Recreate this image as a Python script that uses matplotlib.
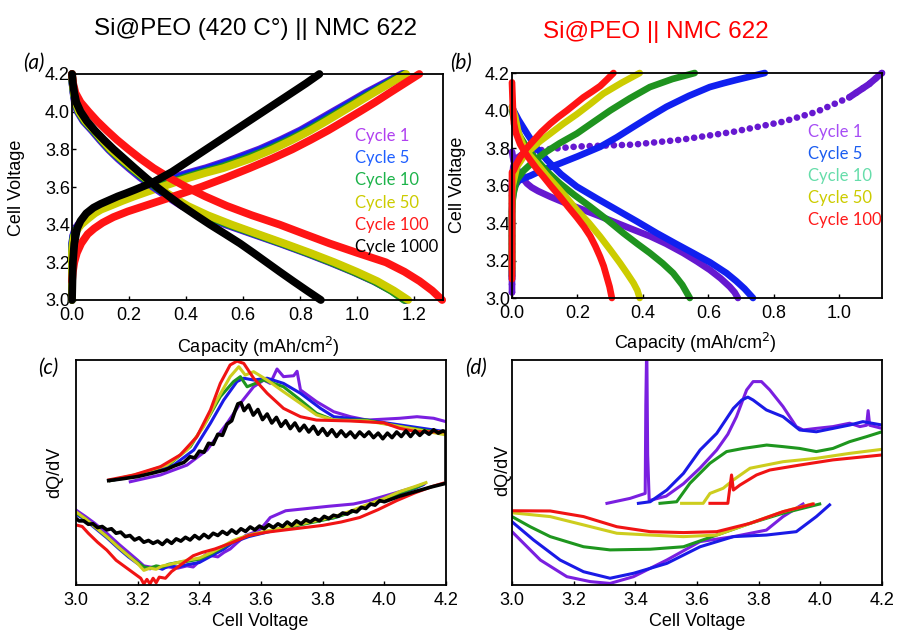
import matplotlib
matplotlib.use("Agg")
import matplotlib.pyplot as plt

# ------------------------------------------------------------------
# Panel (a): Si@PEO (420 C) || NMC 622 charge / discharge profiles
# ------------------------------------------------------------------
a_v_chg = [3.0, 3.25, 3.3, 3.34, 3.37, 3.4, 3.43, 3.46, 3.48, 3.5, 3.525, 3.55, 3.575, 3.6,
           3.625, 3.65, 3.675, 3.7, 3.75, 3.8, 3.85, 3.9, 3.95, 4.0, 4.05, 4.1, 4.15, 4.2]
a_cap_chg_1 = [0.0, 0.0, 0.001, 0.004, 0.01, 0.022, 0.04, 0.062, 0.08, 0.10, 0.133, 0.17, 0.213, 0.262,
               0.31, 0.357, 0.41, 0.47, 0.57, 0.658, 0.732, 0.80, 0.858, 0.915, 0.973, 1.03, 1.093, 1.157]
a_cap_chg_5 = [0.0, 0.0, 0.001, 0.005, 0.012, 0.025, 0.045, 0.068, 0.088, 0.11, 0.145, 0.183, 0.227, 0.275,
               0.323, 0.37, 0.423, 0.483, 0.582, 0.668, 0.741, 0.808, 0.866, 0.923, 0.981, 1.038, 1.10, 1.162]
a_cap_chg_10 = [0.0, 0.0, 0.002, 0.006, 0.014, 0.028, 0.05, 0.074, 0.095, 0.125, 0.163, 0.204, 0.25, 0.298,
                0.347, 0.396, 0.45, 0.512, 0.608, 0.69, 0.761, 0.825, 0.882, 0.938, 0.994, 1.05, 1.108, 1.166]
a_cap_chg_50 = [0.0, 0.0, 0.003, 0.008, 0.017, 0.032, 0.055, 0.08, 0.102, 0.135, 0.175, 0.218, 0.265, 0.313,
                0.362, 0.413, 0.468, 0.53, 0.625, 0.703, 0.772, 0.835, 0.892, 0.947, 1.002, 1.057, 1.114, 1.171]

a_v_chg_100 = [3.1, 3.15, 3.2, 3.25, 3.3, 3.35, 3.38, 3.41, 3.44, 3.47, 3.5, 3.53, 3.56, 3.6, 3.65,
               3.7, 3.75, 3.8, 3.85, 3.9, 3.95, 4.0, 4.05, 4.1, 4.15, 4.2]
a_cap_chg_100 = [0.0, 0.003, 0.008, 0.017, 0.032, 0.055, 0.078, 0.107, 0.145, 0.195, 0.255, 0.315, 0.375,
                 0.452, 0.54, 0.622, 0.70, 0.772, 0.836, 0.897, 0.953, 1.008, 1.062, 1.113, 1.165, 1.217]

a_v_chg_1000 = [3.0, 3.2, 3.3, 3.38, 3.42, 3.46, 3.49, 3.51, 3.53, 3.55, 3.567, 3.585, 3.61, 3.63,
                3.655, 3.68, 3.78, 3.88, 3.98, 4.08, 4.15, 4.2]
a_cap_chg_1000 = [0.0, 0.003, 0.008, 0.018, 0.03, 0.05, 0.075, 0.10, 0.13, 0.16, 0.19, 0.22, 0.26, 0.29,
                  0.32, 0.35, 0.45, 0.55, 0.65, 0.75, 0.82, 0.867]

a_v_dis = [4.2, 4.15, 4.1, 4.05, 4.0, 3.95, 3.9, 3.85, 3.8, 3.75, 3.7, 3.65, 3.6, 3.55, 3.5, 3.45,
           3.4, 3.35, 3.3, 3.25, 3.2, 3.15, 3.1, 3.05, 3.0]
a_cap_dis_1 = [0.0, 0.002, 0.005, 0.01, 0.02, 0.04, 0.07, 0.098, 0.128, 0.162, 0.20, 0.24, 0.285, 0.333,
               0.385, 0.455, 0.54, 0.635, 0.73, 0.82, 0.905, 0.985, 1.058, 1.12, 1.168]
a_cap_dis_5 = [0.0, 0.002, 0.006, 0.011, 0.022, 0.042, 0.073, 0.101, 0.131, 0.166, 0.205, 0.245, 0.29,
               0.339, 0.392, 0.462, 0.547, 0.641, 0.735, 0.825, 0.91, 0.99, 1.062, 1.123, 1.17]
a_cap_dis_10 = [0.0, 0.002, 0.006, 0.012, 0.023, 0.044, 0.075, 0.103, 0.133, 0.169, 0.208, 0.249, 0.294,
                0.344, 0.397, 0.467, 0.551, 0.644, 0.737, 0.826, 0.91, 0.988, 1.06, 1.118, 1.165]
a_cap_dis_50 = [0.0, 0.003, 0.007, 0.013, 0.025, 0.047, 0.078, 0.106, 0.136, 0.173, 0.213, 0.255, 0.30,
                0.351, 0.405, 0.476, 0.56, 0.652, 0.745, 0.835, 0.92, 0.998, 1.07, 1.128, 1.178]
a_cap_dis_100 = [0.0, 0.004, 0.012, 0.03, 0.058, 0.088, 0.122, 0.158, 0.198, 0.24, 0.286, 0.34, 0.40,
                 0.467, 0.542, 0.63, 0.728, 0.815, 0.903, 1.0, 1.10, 1.165, 1.218, 1.262, 1.297]
a_cap_dis_1000 = [0.0, 0.003, 0.008, 0.015, 0.03, 0.052, 0.08, 0.112, 0.146, 0.183, 0.22, 0.258, 0.297,
                  0.34, 0.385, 0.434, 0.484, 0.537, 0.589, 0.636, 0.682, 0.728, 0.775, 0.823, 0.872]

a_labels = ["Cycle 1", "Cycle 5", "Cycle 10", "Cycle 50", "Cycle 100", "Cycle 1000"]

# ------------------------------------------------------------------
# Panel (b): Si@PEO || NMC 622 charge / discharge profiles
# ------------------------------------------------------------------
b_cap_chg_1 = [0.0, 0.0, 0.004, 0.012, 0.03, 0.06, 0.10, 0.20, 0.37, 0.52, 0.675, 0.827, 0.93, 1.03, 1.09, 1.13]
b_v_chg_1 = [3.03, 3.62, 3.70, 3.74, 3.765, 3.78, 3.792, 3.808, 3.818, 3.845, 3.886, 3.94, 3.993, 4.07, 4.14, 4.2]
b_cap_dis_1 = [0.0, 0.002, 0.005, 0.012, 0.02, 0.032, 0.046, 0.06, 0.08, 0.117, 0.165, 0.218, 0.27, 0.32,
               0.37, 0.421, 0.47, 0.523, 0.565, 0.604, 0.637, 0.665, 0.68, 0.69]
b_v_dis_1 = [3.78, 3.76, 3.73, 3.7, 3.67, 3.64, 3.61, 3.59, 3.57, 3.54, 3.505, 3.47, 3.435, 3.40, 3.365,
             3.33, 3.29, 3.24, 3.195, 3.15, 3.105, 3.06, 3.03, 3.0]

b_cap_chg_5 = [0.0, 0.0, 0.002, 0.005, 0.01, 0.02, 0.035, 0.056, 0.09, 0.147, 0.2, 0.269, 0.32, 0.371,
               0.42, 0.472, 0.54, 0.604, 0.645, 0.685, 0.73, 0.772]
b_v_chg_5 = [3.1, 3.47, 3.53, 3.576, 3.6, 3.625, 3.638, 3.652, 3.68, 3.718, 3.755, 3.806, 3.857, 3.913,
             3.966, 4.02, 4.078, 4.125, 4.145, 4.163, 4.182, 4.2]
b_cap_dis_5 = [0.0, 0.005, 0.02, 0.046, 0.075, 0.107, 0.15, 0.198, 0.26, 0.32, 0.38, 0.442, 0.5, 0.553,
               0.605, 0.655, 0.685, 0.71, 0.736]
b_v_dis_5 = [4.02, 4.0, 3.95, 3.877, 3.8, 3.735, 3.66, 3.594, 3.53, 3.47, 3.41, 3.346, 3.29, 3.24, 3.19,
             3.133, 3.09, 3.05, 3.0]

b_cap_chg_10 = [0.0, 0.0, 0.002, 0.005, 0.015, 0.036, 0.064, 0.096, 0.145, 0.198, 0.25, 0.30, 0.36, 0.421,
                0.49, 0.558]
b_v_chg_10 = [3.12, 3.45, 3.52, 3.56, 3.63, 3.68, 3.725, 3.77, 3.825, 3.877, 3.94, 4.0, 4.065, 4.125,
              4.168, 4.2]
b_cap_dis_10 = [0.0, 0.005, 0.012, 0.025, 0.048, 0.076, 0.11, 0.147, 0.19, 0.239, 0.29, 0.34, 0.382, 0.421,
                0.46, 0.492, 0.52, 0.543]
b_v_dis_10 = [4.0, 3.96, 3.91, 3.86, 3.795, 3.735, 3.67, 3.61, 3.55, 3.487, 3.418, 3.346, 3.29, 3.24,
              3.185, 3.133, 3.07, 3.0]

b_cap_chg_50 = [0.0, 0.0, 0.002, 0.005, 0.015, 0.034, 0.056, 0.085, 0.117, 0.157, 0.198, 0.24, 0.279,
                0.335, 0.39]
b_v_chg_50 = [3.15, 3.55, 3.6, 3.62, 3.70, 3.75, 3.79, 3.835, 3.877, 3.93, 3.98, 4.036, 4.09, 4.148, 4.2]
b_cap_dis_50 = [0.0, 0.004, 0.01, 0.02, 0.036, 0.055, 0.076, 0.105, 0.137, 0.168, 0.198, 0.235, 0.269,
                0.30, 0.33, 0.352, 0.371, 0.383, 0.39]
b_v_dis_50 = [4.02, 4.0, 3.966, 3.88, 3.806, 3.76, 3.718, 3.656, 3.594, 3.532, 3.47, 3.4, 3.328, 3.257,
              3.186, 3.13, 3.08, 3.04, 3.0]

b_cap_chg_100 = [0.0, 0.0, 0.002, 0.005, 0.014, 0.025, 0.044, 0.066, 0.09, 0.117, 0.142, 0.168, 0.193,
                 0.218, 0.244, 0.269, 0.29, 0.31]
b_v_chg_100 = [3.1, 3.67, 3.675, 3.68, 3.715, 3.75, 3.797, 3.84, 3.886, 3.93, 3.966, 4.0, 4.035, 4.07,
               4.1, 4.13, 4.165, 4.2]
b_cap_dis_100 = [0.0, 0.002, 0.003, 0.006, 0.012, 0.025, 0.04, 0.056, 0.075, 0.096, 0.12, 0.147, 0.172,
                 0.198, 0.22, 0.239, 0.255, 0.269, 0.28, 0.289, 0.298, 0.305]
b_v_dis_100 = [4.15, 4.05, 4.0, 3.93, 3.88, 3.82, 3.775, 3.735, 3.69, 3.647, 3.595, 3.54, 3.485, 3.43,
               3.38, 3.33, 3.275, 3.22, 3.17, 3.115, 3.06, 3.0]

b_labels = ["Cycle 1", "Cycle 5", "Cycle 10", "Cycle 50", "Cycle 100"]

# ------------------------------------------------------------------
# Panel (c): dQ/dV, Si@PEO (420 C) || NMC 622  (voltage, dQ/dV a.u.)
# ------------------------------------------------------------------
c_chg_1 = [(3.176, 4.59), (3.274, 4.89), (3.36, 5.33), (3.425, 6.0), (3.49, 7.19), (3.533, 8.07),
           (3.576, 8.81), (3.609, 9.11), (3.63, 8.96), (3.652, 9.6), (3.673, 9.26), (3.706, 9.3),
           (3.717, 9.5), (3.728, 8.67), (3.78, 8.15), (3.836, 7.7), (3.89, 7.48), (3.944, 7.33),
           (4.05, 7.41), (4.106, 7.48), (4.16, 7.41), (4.2, 7.26)]
c_chg_5 = [(3.111, 4.64), (3.23, 4.93), (3.317, 5.33), (3.382, 6.0), (3.436, 7.19), (3.479, 8.22),
           (3.522, 9.04), (3.544, 9.19), (3.576, 9.11), (3.62, 9.19), (3.673, 8.96), (3.728, 8.52),
           (3.793, 7.85), (3.836, 7.48), (3.944, 7.33), (4.052, 7.11), (4.2, 6.81)]
c_chg_10 = [(3.111, 4.64), (3.22, 4.96), (3.306, 5.4), (3.371, 6.15), (3.425, 7.33), (3.468, 8.37),
            (3.511, 9.04), (3.533, 9.26), (3.555, 8.81), (3.609, 9.11), (3.673, 8.81), (3.728, 8.22),
            (3.78, 7.63), (3.836, 7.33), (3.944, 7.33), (4.052, 7.04), (4.2, 6.74)]
c_chg_50 = [(3.111, 4.64), (3.209, 4.96), (3.295, 5.33), (3.36, 6.0), (3.414, 7.04), (3.457, 8.22),
            (3.50, 9.26), (3.528, 9.7), (3.549, 9.33), (3.576, 9.48), (3.62, 9.11), (3.673, 8.59),
            (3.728, 8.07), (3.78, 7.56), (3.836, 7.33), (3.944, 7.29), (4.052, 7.04), (4.2, 6.67)]
c_chg_100 = [(3.106, 4.67), (3.187, 4.89), (3.274, 5.26), (3.338, 5.78), (3.392, 6.59), (3.436, 7.78),
             (3.468, 8.96), (3.50, 9.78), (3.522, 9.95), (3.544, 9.85), (3.576, 9.19), (3.62, 8.52),
             (3.673, 7.85), (3.728, 7.48), (3.78, 7.33), (3.89, 7.29), (3.998, 7.21), (4.05, 6.96),
             (4.106, 6.81), (4.2, 6.81)]
c_chg_1000 = [(3.106, 4.64), (3.15, 4.72), (3.20, 4.82), (3.25, 4.98), (3.29, 5.12), (3.32, 5.3),
              (3.35, 5.45), (3.37, 5.7), (3.385, 5.65), (3.40, 5.95), (3.415, 5.9), (3.43, 6.3),
              (3.445, 6.25), (3.46, 6.7), (3.475, 6.65), (3.49, 7.15), (3.505, 7.3), (3.515, 7.7),
              (3.525, 8.05), (3.535, 8.1), (3.545, 7.75), (3.56, 8.0), (3.575, 7.55), (3.59, 7.8),
              (3.605, 7.35), (3.62, 7.6), (3.635, 7.2), (3.65, 7.45), (3.665, 7.05), (3.68, 7.3),
              (3.695, 6.95), (3.71, 7.2), (3.725, 6.85), (3.74, 7.1), (3.755, 6.8), (3.77, 7.05),
              (3.785, 6.7), (3.80, 6.95), (3.815, 6.65), (3.83, 6.9), (3.845, 6.6), (3.86, 6.85),
              (3.875, 6.6), (3.89, 6.8), (3.905, 6.55), (3.92, 6.8), (3.935, 6.6), (3.95, 6.8),
              (3.965, 6.55), (3.98, 6.75), (3.995, 6.5), (4.01, 6.75), (4.025, 6.55), (4.04, 6.8),
              (4.055, 6.6), (4.07, 6.85), (4.085, 6.6), (4.10, 6.85), (4.115, 6.65), (4.13, 6.85),
              (4.145, 6.7), (4.16, 6.9), (4.175, 6.75), (4.19, 6.85), (4.2, 6.8)]

c_dis_1 = [(3.0, 3.33), (3.03, 3.05), (3.06, 2.75), (3.10, 2.3), (3.14, 1.8), (3.17, 1.45), (3.20, 1.1),
           (3.22, 0.85), (3.24, 0.8), (3.27, 0.75), (3.30, 0.8), (3.33, 0.75), (3.36, 0.85), (3.38, 0.8),
           (3.40, 1.05), (3.42, 1.35), (3.44, 1.3), (3.46, 1.25), (3.48, 1.45), (3.50, 1.6), (3.52, 1.85),
           (3.55, 2.2), (3.58, 2.35), (3.60, 2.5), (3.63, 3.0), (3.68, 3.3), (3.75, 3.4), (3.82, 3.5),
           (3.90, 3.6), (3.95, 3.75), (4.0, 3.95), (4.05, 4.15), (4.10, 4.35), (4.13, 4.5)]
c_dis_5 = [(3.0, 3.15), (3.03, 2.9), (3.06, 2.55), (3.10, 2.1), (3.14, 1.6), (3.17, 1.25), (3.20, 0.95),
           (3.22, 0.8), (3.24, 0.72), (3.26, 0.8), (3.28, 0.7), (3.30, 0.85), (3.33, 0.8), (3.36, 0.9),
           (3.40, 1.0), (3.44, 1.3), (3.48, 1.6), (3.51, 1.9), (3.56, 2.15), (3.62, 2.35), (3.67, 2.5),
           (3.73, 2.7), (3.78, 2.85), (3.84, 3.0), (3.89, 3.25), (3.94, 3.5), (4.0, 3.8), (4.05, 4.07),
           (4.10, 4.3), (4.125, 4.45)]
c_dis_10 = [(3.0, 3.2), (3.03, 2.95), (3.06, 2.6), (3.10, 2.15), (3.14, 1.65), (3.17, 1.3), (3.20, 1.0),
            (3.22, 0.8), (3.24, 0.75), (3.26, 0.85), (3.28, 0.8), (3.30, 0.92), (3.33, 1.0), (3.36, 1.05),
            (3.40, 1.15), (3.44, 1.4), (3.48, 1.7), (3.51, 1.95), (3.56, 2.2), (3.62, 2.38), (3.67, 2.52),
            (3.73, 2.68), (3.78, 2.82), (3.84, 3.0), (3.89, 3.22), (3.94, 3.5), (4.0, 3.8), (4.05, 4.1),
            (4.10, 4.32), (4.12, 4.45)]
c_dis_50 = [(3.0, 3.25), (3.03, 2.95), (3.06, 2.6), (3.10, 2.15), (3.14, 1.65), (3.17, 1.3), (3.20, 0.95),
            (3.22, 0.65), (3.24, 0.75), (3.26, 0.7), (3.28, 0.85), (3.30, 0.9), (3.33, 1.0), (3.36, 1.1),
            (3.40, 1.2), (3.44, 1.45), (3.48, 1.75), (3.51, 1.98), (3.56, 2.22), (3.62, 2.4), (3.67, 2.55),
            (3.73, 2.72), (3.78, 2.86), (3.84, 3.05), (3.89, 3.28), (3.94, 3.55), (4.0, 3.85), (4.05, 4.15),
            (4.10, 4.38), (4.135, 4.55)]
c_dis_100 = [(3.0, 2.67), (3.02, 2.6), (3.04, 2.3), (3.07, 1.9), (3.10, 1.55), (3.13, 1.1), (3.16, 0.8),
             (3.19, 0.5), (3.21, 0.3), (3.22, 0.05), (3.23, 0.25), (3.24, 0.05), (3.25, 0.3), (3.26, 0.1),
             (3.27, 0.35), (3.29, 0.3), (3.31, 0.6), (3.33, 0.8), (3.35, 1.0), (3.38, 1.3), (3.41, 1.45),
             (3.45, 1.6), (3.50, 1.85), (3.56, 2.2), (3.62, 2.35), (3.68, 2.45), (3.74, 2.55), (3.80, 2.65),
             (3.86, 2.8), (3.92, 3.0), (3.98, 3.35), (4.04, 3.75), (4.10, 4.1), (4.16, 4.4), (4.19, 4.52)]
c_dis_1000 = [(4.2, 4.52), (4.15, 4.35), (4.10, 4.15), (4.05, 3.95), (4.0, 3.7), (3.985, 3.75), (3.97, 3.55),
              (3.955, 3.6), (3.94, 3.4), (3.925, 3.45), (3.91, 3.25), (3.895, 3.3), (3.88, 3.15), (3.865, 3.2),
              (3.85, 3.05), (3.835, 3.1), (3.82, 2.95), (3.805, 3.05), (3.79, 2.85), (3.775, 2.95), (3.76, 2.8),
              (3.745, 2.9), (3.73, 2.72), (3.715, 2.85), (3.70, 2.65), (3.685, 2.8), (3.67, 2.6), (3.655, 2.72),
              (3.64, 2.55), (3.625, 2.68), (3.61, 2.5), (3.595, 2.62), (3.58, 2.45), (3.565, 2.58), (3.55, 2.38),
              (3.535, 2.5), (3.52, 2.3), (3.505, 2.45), (3.49, 2.25), (3.475, 2.38), (3.46, 2.2), (3.445, 2.3),
              (3.43, 2.1), (3.415, 2.25), (3.40, 2.05), (3.385, 2.2), (3.37, 2.0), (3.355, 2.12), (3.34, 1.95),
              (3.325, 2.05), (3.31, 1.85), (3.295, 2.0), (3.28, 1.8), (3.265, 1.95), (3.25, 1.85), (3.235, 1.98),
              (3.22, 1.9), (3.205, 2.1), (3.19, 2.0), (3.175, 2.2), (3.16, 2.15), (3.145, 2.35), (3.13, 2.3),
              (3.115, 2.5), (3.10, 2.45), (3.085, 2.6), (3.07, 2.55), (3.055, 2.72), (3.04, 2.7), (3.025, 2.85),
              (3.01, 2.85), (3.0, 2.96)]

# ------------------------------------------------------------------
# Panel (d): dQ/dV, Si@PEO || NMC 622
# ------------------------------------------------------------------
d_chg_1 = [(3.308, 3.63), (3.383, 3.85), (3.432, 4.07), (3.434, 8.0), (3.437, 10.8), (3.44, 5.78),
           (3.445, 3.75), (3.50, 3.95), (3.556, 4.5), (3.61, 5.2), (3.664, 6.0), (3.70, 6.7), (3.728, 7.48),
           (3.761, 8.67), (3.782, 9.04), (3.809, 9.04), (3.836, 8.67), (3.879, 7.93), (3.922, 7.04),
           (3.944, 6.89), (3.987, 6.96), (4.041, 7.04), (4.095, 7.19), (4.128, 7.04), (4.15, 7.1),
           (4.155, 7.75), (4.16, 7.1), (4.2, 6.96)]
d_chg_5 = [(3.41, 3.63), (3.448, 3.70), (3.502, 4.22), (3.556, 4.96), (3.61, 6.0), (3.664, 6.74),
           (3.718, 7.85), (3.745, 8.22), (3.765, 8.35), (3.782, 8.22), (3.825, 7.78), (3.879, 7.48),
           (3.933, 6.89), (3.987, 6.81), (4.041, 6.96), (4.095, 7.11), (4.138, 7.26), (4.2, 7.11)]
d_chg_10 = [(3.48, 3.63), (3.534, 3.70), (3.577, 4.52), (3.642, 5.41), (3.696, 5.93), (3.75, 6.07),
            (3.826, 6.22), (3.879, 6.15), (3.933, 6.07), (3.987, 5.93), (4.041, 6.07), (4.095, 6.37),
            (4.149, 6.59), (4.2, 6.81)]
d_chg_50 = [(3.55, 3.63), (3.62, 3.63), (3.642, 4.07), (3.685, 4.30), (3.718, 4.67), (3.772, 5.19),
            (3.879, 5.48), (3.987, 5.63), (4.095, 5.85), (4.2, 6.03)]
d_chg_100 = [(3.642, 3.63), (3.70, 3.63), (3.712, 4.89), (3.718, 4.22), (3.739, 4.44), (3.793, 4.89),
             (3.836, 5.11), (3.933, 5.33), (4.041, 5.56), (4.2, 5.78)]

d_dis_1 = [(3.0, 2.37), (3.092, 1.11), (3.178, 0.37), (3.254, 0.15), (3.318, 0.07), (3.394, 0.37),
           (3.502, 1.11), (3.61, 1.93), (3.718, 2.15), (3.825, 2.44), (3.879, 3.04), (3.944, 3.6)]
d_dis_5 = [(3.0, 2.81), (3.07, 2.0), (3.156, 1.11), (3.232, 0.59), (3.318, 0.30), (3.394, 0.52),
           (3.502, 0.96), (3.61, 1.70), (3.718, 2.15), (3.825, 2.22), (3.922, 2.37), (3.987, 3.04),
           (4.03, 3.56)]
d_dis_10 = [(3.0, 3.04), (3.059, 2.59), (3.124, 2.15), (3.232, 1.70), (3.318, 1.56), (3.448, 1.59),
            (3.556, 1.70), (3.664, 2.22), (3.772, 2.74), (3.879, 3.19), (3.998, 3.6)]
d_dis_50 = [(3.0, 3.21), (3.124, 3.04), (3.232, 2.67), (3.34, 2.30), (3.448, 2.22), (3.556, 2.15),
            (3.664, 2.22), (3.772, 2.74), (3.879, 3.26), (3.972, 3.6)]
d_dis_100 = [(3.0, 3.30), (3.124, 3.29), (3.232, 3.04), (3.34, 2.59), (3.448, 2.37), (3.556, 2.33),
             (3.664, 2.37), (3.772, 2.74), (3.879, 3.26), (3.977, 3.6)]

# ------------------------------------------------------------------
# Styling
# ------------------------------------------------------------------
plt.rcParams['font.family'] = ['Liberation Sans', 'DejaVu Sans']

line_col = ['#6618D0', '#1020F0', '#1F931F', '#CCCC00', '#FF1414', '#000000']
text_col_a = ['#B040F0', '#1F5FFF', '#1DB34A', '#CCCC00', '#FF1A1A', '#000000']
text_col_b = ['#A64DF5', '#1A5CF0', '#66DDAA', '#CCCC00', '#FF1A1A']
dq_col = ['#7A1FE0', '#1A1AE6', '#1E961E', '#CDCD1E', '#F01414', '#000000']
LEG_FONT = ['Lato', 'DejaVu Sans']

W, H = 899, 630
fig = plt.figure(figsize=(W / 100, H / 100), dpi=100)


def box(left, top, right, bottom):
    return [left / W, 1 - bottom / H, (right - left) / W, (bottom - top) / H]


def px(x, y):
    return x / W, 1 - y / H


def style(ax):
    for s in ax.spines.values():
        s.set_linewidth(1.3)
    ax.tick_params(direction='in', length=3, width=1, labelsize=13)
    ax.tick_params(axis='x', pad=5)
    ax.tick_params(axis='y', pad=1.5)


ax_a = fig.add_axes(box(72, 74, 443, 300))
ax_b = fig.add_axes(box(512, 73, 882, 298))
ax_c = fig.add_axes(box(76, 360, 446, 585))
ax_d = fig.add_axes(box(512, 360, 882, 585))

# ---- (a) ----
lw_a = 5.6
kw_a = dict(lw=lw_a, solid_capstyle='round', solid_joinstyle='round', clip_on=False)
for cap, col in zip([a_cap_chg_1, a_cap_chg_5, a_cap_chg_10, a_cap_chg_50], line_col[:4]):
    ax_a.plot(cap, a_v_chg, color=col, **kw_a)
for cap, col in zip([a_cap_dis_1, a_cap_dis_5, a_cap_dis_10, a_cap_dis_50], line_col[:4]):
    ax_a.plot(cap, a_v_dis, color=col, **kw_a)
ax_a.plot(a_cap_chg_100, a_v_chg_100, color=line_col[4], **kw_a)
ax_a.plot(a_cap_dis_100, a_v_dis, color=line_col[4], **kw_a)
ax_a.plot(a_cap_chg_1000, a_v_chg_1000, color=line_col[5], **kw_a)
ax_a.plot(a_cap_dis_1000, a_v_dis, color=line_col[5], **kw_a)
ax_a.set_xlim(0, 1.3)
ax_a.set_ylim(3.0, 4.2)
ax_a.set_xticks([0.0, 0.2, 0.4, 0.6, 0.8, 1.0, 1.2])
ax_a.set_yticks([3.0, 3.2, 3.4, 3.6, 3.8, 4.0, 4.2])
ax_a.xaxis.set_major_formatter('{x:.1f}')
ax_a.yaxis.set_major_formatter('{x:.1f}')
style(ax_a)

# ---- (b) ----
lw_b = 4.8
kw_b = dict(lw=lw_b, solid_capstyle='round', solid_joinstyle='round', clip_on=False)
b_sets = [(b_cap_chg_5, b_v_chg_5, b_cap_dis_5, b_v_dis_5),
          (b_cap_chg_10, b_v_chg_10, b_cap_dis_10, b_v_dis_10),
          (b_cap_chg_50, b_v_chg_50, b_cap_dis_50, b_v_dis_50),
          (b_cap_chg_100, b_v_chg_100, b_cap_dis_100, b_v_dis_100)]
# cycle 1: dotted plateau, solid where the points crowd together
ax_b.plot(b_cap_dis_1, b_v_dis_1, color=line_col[0], **kw_b)
ax_b.plot(b_cap_chg_1, b_v_chg_1, color=line_col[0], lw=lw_b, linestyle=(0, (0.01, 1.2)),
          dash_capstyle='round', clip_on=False)
ax_b.plot(b_cap_chg_1[:6], b_v_chg_1[:6], color=line_col[0], **kw_b)
ax_b.plot(b_cap_chg_1[-3:], b_v_chg_1[-3:], color=line_col[0], **kw_b)
for (cc, vc, cd, vd), col in zip(b_sets, line_col[1:5]):
    ax_b.plot(cc, vc, color=col, **kw_b)
    ax_b.plot(cd, vd, color=col, **kw_b)
ax_b.set_xlim(0, 1.13)
ax_b.set_ylim(3.0, 4.2)
ax_b.set_xticks([0.0, 0.2, 0.4, 0.6, 0.8, 1.0])
ax_b.set_yticks([3.0, 3.2, 3.4, 3.6, 3.8, 4.0, 4.2])
ax_b.xaxis.set_major_formatter('{x:.1f}')
ax_b.yaxis.set_major_formatter('{x:.1f}')
style(ax_b)

# ---- (c) ----
lw_c = 2.2
c_chg = [c_chg_1, c_chg_5, c_chg_10, c_chg_50, c_chg_100]
c_dis = [c_dis_1, c_dis_5, c_dis_10, c_dis_50, c_dis_100]
for chg, dis, col in zip(c_chg, c_dis, dq_col[:5]):
    for seg in (chg, dis):
        v, y = zip(*seg)
        ax_c.plot(v, y, color=col, lw=lw_c)
v, y = zip(*(c_chg_1000 + c_dis_1000))
ax_c.plot(v, y, color=dq_col[5], lw=lw_c + 0.4)
ax_c.set_xlim(3.0, 4.2)
ax_c.set_ylim(0, 10)
ax_c.set_xticks([3.0, 3.2, 3.4, 3.6, 3.8, 4.0, 4.2])
ax_c.xaxis.set_major_formatter('{x:.1f}')
ax_c.set_yticks([])
style(ax_c)

# ---- (d) ----
d_chg = [d_chg_1, d_chg_5, d_chg_10, d_chg_50, d_chg_100]
d_dis = [d_dis_1, d_dis_5, d_dis_10, d_dis_50, d_dis_100]
for chg, dis, col in zip(d_chg, d_dis, dq_col[:5]):
    for seg in (chg, dis):
        v, y = zip(*seg)
        ax_d.plot(v, y, color=col, lw=lw_c)
ax_d.set_xlim(3.0, 4.2)
ax_d.set_ylim(0, 10)
ax_d.set_xticks([3.0, 3.2, 3.4, 3.6, 3.8, 4.0, 4.2])
ax_d.xaxis.set_major_formatter('{x:.1f}')
ax_d.set_yticks([])
style(ax_d)

# ---- legends (coloured text) ----
for i, (lab, col) in enumerate(zip(a_labels, text_col_a)):
    fig.text(*px(355, 141 + 22.2 * i), lab, color=col, fontsize=12, family=LEG_FONT,
             ha='left', va='baseline')
for i, (lab, col) in enumerate(zip(b_labels, text_col_b)):
    fig.text(*px(808, 137 + 22 * i), lab, color=col, fontsize=12, family=LEG_FONT,
             ha='left', va='baseline')

# ---- titles, axis labels, panel letters ----
fig.text(*px(256, 35), "Si@PEO (420 C°) || NMC 622", fontsize=17.5, color='black',
         ha='center', va='baseline')
fig.text(*px(656, 38), "Si@PEO || NMC 622", fontsize=17.5, color='#FF0000',
         ha='center', va='baseline')

fig.text(*px(258, 347), "Capacity (mAh/cm$^2$)", fontsize=13, ha='center', va='center')
fig.text(*px(695, 343), "Capacity (mAh/cm$^2$)", fontsize=13, ha='center', va='center')
fig.text(*px(17, 188), "Cell Voltage", fontsize=13, rotation=90, ha='center', va='center')
fig.text(*px(458, 185), "Cell Voltage", fontsize=13, rotation=90, ha='center', va='center')
fig.text(*px(55, 472), "dQ/dV", fontsize=13, rotation=90, ha='center', va='center')
fig.text(*px(503, 470), "dQ/dV", fontsize=13, rotation=90, ha='center', va='center')
fig.text(*px(260, 622), "Cell Voltage", fontsize=13, ha='center', va='center')
fig.text(*px(697, 622), "Cell Voltage", fontsize=13, ha='center', va='center')

for lab, (x, y) in zip(["(a)", "(b)", "(c)", "(d)"], [(23, 69), (450, 69), (38, 374), (465, 374)]):
    fig.text(*px(x, y), lab, fontsize=15, style='italic', family=LEG_FONT,
             ha='left', va='baseline')

fig.savefig("out.png", dpi=100)
